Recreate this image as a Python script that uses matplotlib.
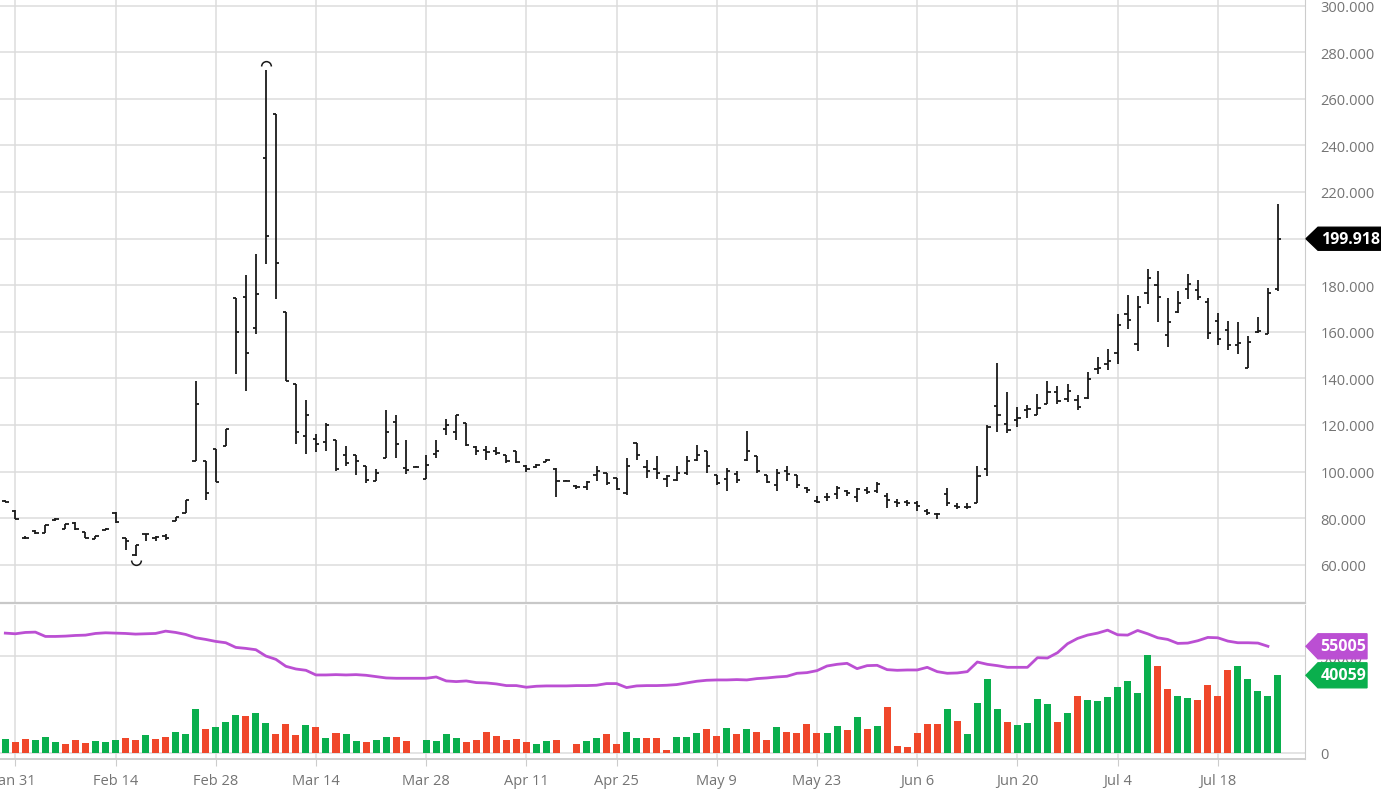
import matplotlib.pyplot as plt
import numpy as np
from matplotlib.patches import Polygon
from matplotlib.path import Path
from matplotlib.transforms import IdentityTransform

plt.rcParams['font.family'] = ['Open Sans', 'DejaVu Sans']

# date labels and the bar index they sit on
tick_labels = ['Jan 31', 'Feb 14', 'Feb 28', 'Mar 14', 'Mar 28', 'Apr 11', 'Apr 25',
               'May 9', 'May 23', 'Jun 6', 'Jun 20', 'Jul 4', 'Jul 18']
tick_pos = [1, 11, 21, 31, 42, 52, 61, 71, 81, 91, 101, 111, 121]

opens = [87.2, 83.2, 71.6, 74.6, 73.8, 79.2, 75.5, 78.0, 74.0, 71.2,
         75.0, 82.3, 71.4, 64.0, 73.0, 71.5, 72.5, 79.0, 82.3, 104.7,
         104.7, 109.7, 111.1, 174.7, 175.1, 161.4, 234.6, 253.6, 168.3, 137.6,
         115.1, 114.0, 112.7, 113.7, 107.0, 107.3, 102.6, 95.9, 105.9, 121.1,
         101.5, 102.0, 96.9, 107.5, 118.3, 116.9, 120.9, 110.6, 109.3, 109.0,
         107.0, 108.7, 102.6, 102.1, 104.3, 100.9, 96.1, 93.6, 93.4, 98.7,
         99.4, 97.3, 90.6, 112.3, 102.0, 101.1, 96.6, 96.3, 99.4, 104.9,
         108.7, 98.7, 97.0, 99.0, 105.1, 106.6, 98.7, 94.4, 100.3, 98.7,
         93.0, 87.3, 88.9, 90.3, 91.7, 88.9, 91.9, 91.7, 89.6, 86.9,
         86.9, 86.7, 83.1, 81.9, 90.3, 85.3, 84.6, 86.4, 101.3, 128.1,
         120.3, 122.1, 126.3, 124.1, 128.9, 134.3, 131.0, 130.9, 131.7, 144.2,
         146.0, 151.0, 167.6, 154.7, 176.8, 179.9, 158.8, 168.6, 178.3, 178.0,
         172.9, 164.6, 160.7, 154.5, 144.6, 159.9, 159.0, 178.4]
highs = [87.6, 83.5, 72.2, 74.8, 77.0, 80.2, 77.5, 78.2, 74.2, 72.5,
         75.7, 82.5, 71.6, 68.5, 73.2, 72.5, 73.0, 80.5, 87.6, 139.0,
         104.7, 109.7, 118.3, 174.7, 184.4, 193.3, 272.3, 253.6, 168.3, 137.6,
         130.6, 116.0, 120.8, 113.7, 110.9, 107.3, 102.6, 100.9, 126.3, 124.4,
         113.7, 102.2, 107.3, 113.7, 122.6, 124.4, 120.9, 110.9, 110.9, 110.6,
         107.3, 108.7, 103.0, 103.4, 105.6, 101.6, 96.3, 94.3, 96.0, 102.3,
         99.4, 97.3, 105.9, 112.3, 105.1, 106.6, 98.7, 102.3, 106.6, 111.6,
         108.7, 98.7, 101.6, 100.1, 117.3, 106.6, 98.7, 100.9, 102.3, 98.7,
         93.4, 89.6, 90.7, 93.9, 92.0, 92.9, 93.4, 95.7, 90.6, 88.1,
         87.7, 87.4, 83.9, 82.1, 92.9, 86.7, 86.4, 102.4, 119.9, 146.7,
         134.1, 127.7, 128.4, 133.1, 138.9, 136.7, 137.7, 133.0, 142.7, 149.2,
         152.8, 167.6, 175.8, 175.4, 187.0, 185.9, 174.4, 177.3, 184.7, 182.0,
         174.4, 168.2, 164.7, 164.0, 158.3, 166.5, 178.7, 214.7]
lows = [86.8, 79.5, 71.0, 73.3, 73.6, 78.8, 75.3, 75.0, 71.5, 71.0,
        74.9, 78.0, 66.3, 63.8, 70.0, 70.0, 70.8, 78.8, 82.3, 104.7,
        87.6, 95.4, 111.0, 141.9, 134.7, 159.0, 189.0, 174.0, 139.0, 111.9,
        107.6, 108.6, 108.7, 100.1, 102.3, 98.7, 95.1, 95.9, 105.9, 105.9,
        99.1, 101.8, 96.6, 105.9, 115.9, 113.7, 111.0, 107.3, 104.9, 107.3,
        103.6, 103.7, 99.9, 101.4, 104.0, 89.1, 95.9, 92.7, 92.3, 95.9,
        94.4, 92.3, 90.1, 105.1, 97.3, 96.6, 93.4, 95.9, 98.7, 104.4,
        99.4, 94.4, 91.6, 95.1, 104.4, 99.4, 95.1, 91.6, 95.9, 93.0,
        90.9, 86.7, 87.4, 88.4, 89.6, 87.1, 90.3, 90.7, 84.3, 84.9,
        85.3, 83.1, 81.3, 79.6, 85.3, 83.9, 84.1, 86.4, 98.1, 117.1,
        116.4, 119.3, 123.1, 124.1, 128.9, 128.9, 130.0, 126.6, 131.2, 142.0,
        143.5, 146.3, 161.0, 151.8, 171.9, 164.0, 153.5, 167.9, 174.0, 173.7,
        156.7, 154.2, 152.1, 150.6, 144.6, 159.6, 159.0, 177.6]
closes = [87.0, 79.7, 71.5, 73.5, 77.0, 79.8, 77.3, 75.2, 71.6, 72.2,
          75.5, 78.3, 70.3, 68.3, 73.1, 72.0, 71.5, 80.3, 87.6, 129.0,
          90.9, 95.4, 118.3, 159.7, 150.9, 176.4, 201.1, 189.4, 139.0, 116.9,
          124.4, 111.9, 120.0, 100.9, 103.5, 104.4, 96.2, 99.4, 116.9, 111.9,
          100.6, 102.0, 103.0, 108.7, 120.1, 124.4, 111.6, 109.0, 108.4, 108.0,
          104.7, 104.0, 100.9, 103.0, 105.1, 96.1, 96.1, 93.4, 95.4, 100.1,
          94.9, 92.6, 102.3, 107.3, 100.1, 99.4, 98.0, 99.4, 104.4, 107.3,
          102.6, 94.9, 100.1, 96.3, 108.7, 100.1, 95.4, 99.4, 99.1, 94.4,
          92.3, 86.9, 89.1, 92.9, 90.7, 92.4, 91.3, 94.6, 87.7, 86.7,
          86.3, 85.3, 82.4, 81.7, 86.4, 84.6, 84.9, 98.1, 119.3, 124.1,
          117.9, 123.1, 126.7, 127.4, 134.1, 130.2, 134.5, 127.5, 139.9, 144.4,
          147.3, 162.9, 165.0, 170.8, 183.0, 175.1, 164.3, 172.5, 180.4, 175.1,
          159.3, 157.1, 154.2, 155.3, 155.7, 160.2, 176.5, 199.918]
volume = [7190, 5650, 7190, 6680, 8220, 5480, 4450, 6510, 5140, 6160,
          5650, 6680, 7530, 6510, 9250, 7190, 8390, 10790, 9590, 22430,
          12160, 13180, 15920, 19350, 19170, 20370, 15580, 9590, 14720, 9250,
          14550, 13180, 7700, 10270, 9760, 5990, 5650, 6680, 8220, 8220,
          6330, 0, 6680, 6330, 9590, 7700, 5820, 6510, 10610, 8900,
          6510, 7190, 5480, 4450, 6160, 6510, 0, 4450, 6160, 7700,
          9760, 4790, 10610, 7700, 7700, 7700, 1540, 8050, 8220, 10100,
          12160, 8900, 12840, 9760, 12160, 10790, 6680, 13350, 10790, 10270,
          14720, 10440, 10440, 13870, 11640, 18490, 12330, 13870, 23630, 3600,
          2910, 10100, 14890, 14890, 22430, 16610, 9590, 25680, 38350, 22430,
          15920, 14210, 15580, 27730, 25510, 15920, 20540, 29620, 27220, 26880,
          28930, 33900, 36980, 31160, 50680, 44850, 32870, 29280, 28250, 27390,
          34920, 29620, 42630, 44680, 38350, 32190, 29280, 40059]
vol_line = [61800, 61460, 62150, 62320, 60090, 60090, 60260, 60600, 60770, 61630,
            61970, 61800, 61630, 61290, 61460, 61630, 62830, 62150, 61120, 59400,
            58550, 57520, 56840, 54440, 53930, 53240, 49990, 48280, 44690, 43310,
            42630, 40230, 40230, 40400, 40230, 40400, 40060, 39380, 38690, 38520,
            38520, 38520, 38520, 39200, 37150, 36810, 37150, 36290, 36120, 35610,
            34750, 34750, 33900, 34410, 34580, 34580, 34580, 34750, 34750, 34920,
            35780, 35780, 33730, 34580, 34750, 34750, 34920, 35270, 36120, 36980,
            37490, 37660, 37660, 37840, 37660, 38350, 38690, 39200, 39550, 41090,
            41430, 42460, 44850, 45710, 46220, 43480, 45030, 45200, 42970, 42630,
            42800, 42800, 44170, 41940, 41090, 41260, 41940, 46910, 45710, 45030,
            44170, 44170, 44170, 49130, 48960, 51700, 56320, 59060, 60780, 61800,
            63340, 60950, 60780, 63170, 61460, 59400, 58550, 56500, 56670, 57870,
            59580, 59400, 57690, 56840, 56840, 56670, 55005]

W, H = 1381, 803
fig = plt.figure(figsize=(W / 100, H / 100), dpi=100)
ax = fig.add_axes([0, 1 - 604 / H, 1305 / W, 604 / H])
axv = fig.add_axes([0, 1 - 760 / H, 1305 / W, 154 / H], sharex=ax)

grid_c = '#dcdcdc'
text_c = '#747474'
bar_c = '#1a1a1a'
green = '#0aaf4d'
red = '#f0472a'
purple = '#bb4fd3'

x = np.arange(len(opens))
ax.vlines(x, lows, highs, color=bar_c, lw=1.3, zorder=3)
ax.hlines(opens, x - 0.32, x, color=bar_c, lw=1.3, zorder=3)
ax.hlines(closes, x, x + 0.32, color=bar_c, lw=1.3, zorder=3)

# high / low markers
top_arc = Path.arc(0, 180)
bot_arc = Path.arc(180, 360)
i_hi = int(np.argmax(highs))
i_lo = int(np.argmin(lows))
ax.plot(x[i_hi], highs[i_hi] + 1.6, marker=top_arc, ms=7, mfc='none', mec=bar_c, mew=1.1)
ax.plot(x[i_lo], lows[i_lo] - 1.6, marker=bot_arc, ms=7, mfc='none', mec=bar_c, mew=1.1)

ax.set_xlim(-0.53, 129.7)
ax.set_ylim(43.6, 302.8)
ax.set_xticks(tick_pos)
yt = np.arange(60, 301, 20)
ax.set_yticks(yt)
ax.set_yticklabels([f'{v:.3f}' for v in yt])
ax.yaxis.tick_right()
ax.tick_params(axis='y', length=0, pad=11, labelsize=10.5, labelcolor=text_c)
ax.tick_params(axis='x', length=0, labelbottom=False)
ax.grid(True, color=grid_c, lw=1.1, zorder=0)
ax.set_axisbelow(True)
for s in ['top', 'left']:
    ax.spines[s].set_visible(False)
ax.spines['right'].set_color('#cccccc')
ax.spines['bottom'].set_color('#c8c8c8')
ax.spines['bottom'].set_linewidth(1.6)

# volume panel
closes_a = np.array(closes)
up = np.r_[True, closes_a[1:] >= closes_a[:-1]]
vcol = [green if u else red for u in up]
axv.bar(x, volume, width=0.7, color=vcol, zorder=2)
axv.plot(np.arange(len(vol_line)), vol_line, color=purple, lw=2, zorder=3)
axv.set_ylim(-3100, 76300)
axv.set_yticks([0, 50000])
axv.set_yticklabels(['0', '50000'])
axv.yaxis.tick_right()
axv.tick_params(axis='y', length=0, pad=11, labelsize=10.5, labelcolor=text_c)
axv.set_xticks(tick_pos)
axv.set_xticklabels(tick_labels)
axv.tick_params(axis='x', length=5, color='#cccccc', pad=5, labelsize=10.5, labelcolor=text_c)
axv.grid(True, color=grid_c, lw=1.1, zorder=0)
axv.set_axisbelow(True)
for s in ['top', 'left']:
    axv.spines[s].set_visible(False)
axv.spines['right'].set_color('#cccccc')
axv.spines['bottom'].set_color('#cccccc')
axv.spines['bottom'].set_linewidth(1.3)


def tag(axis, value, label, color, x_end, half, size):
    y = axis.transData.transform((0, value))[1]
    tip, body = 1306, 1318
    pts = [(tip, y), (body, y + half), (x_end, y + half), (x_end, y - half), (body, y - half)]
    fig.add_artist(Polygon(pts, closed=True, color=color, transform=IdentityTransform(), zorder=5))
    fig.text((body + x_end) / 2 + 1, y, label, transform=IdentityTransform(), color='white',
             fontsize=size, fontweight='bold', ha='center', va='center', zorder=6)


fig.canvas.draw()
tag(ax, closes[-1], f'{closes[-1]:.3f}', '#000000', 1381, 11.5, 11.5)
tag(axv, vol_line[-1], str(vol_line[-1]), purple, 1367, 12.5, 11.5)
tag(axv, volume[-1], str(volume[-1]), green, 1367, 12.5, 11.5)

fig.savefig('out.png', dpi=100)
